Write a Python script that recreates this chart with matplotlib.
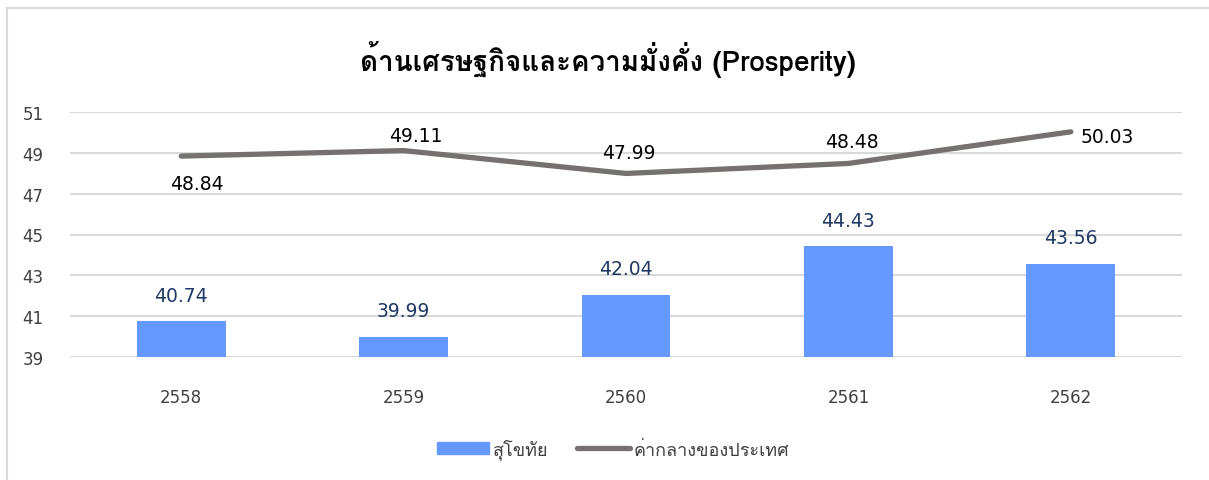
import matplotlib
matplotlib.use("Agg")
import matplotlib.pyplot as plt
import matplotlib.patches as mpatches
from matplotlib.lines import Line2D
import numpy as np

years = ["2558", "2559", "2560", "2561", "2562"]
sukhothai = [40.74, 39.99, 42.04, 44.43, 43.56]
national = [48.84, 49.11, 47.99, 48.48, 50.03]
title = "ด้านเศรษฐกิจและความมั่งคั่ง (Prosperity)"
bar_name = "สุโขทัย"
line_name = "ค่ากลางของประเทศ"

# label offsets (pixels) for the line values, like the Excel original
line_offsets = [(16, -27), (12, 15), (3, 21), (3, 22), (36, -5)]

# Loma keeps tone marks high without shaping, so stacked marks read right
plt.rcParams["font.family"] = ["Loma", "DejaVu Sans"]
num_font = "DejaVu Sans"  # closer to Tahoma digits

W, H = 1209, 481
fig = plt.figure(figsize=(W / 100, H / 100), dpi=100)

# light chart border (cut at right and bottom as in the source)
fig.patches.append(mpatches.Rectangle((7 / W, -0.1), 1.2, 1 - 9 / H + 0.1,
                                      transform=fig.transFigure, fill=False,
                                      edgecolor="#D9D9D9", lw=1.5))

ax = fig.add_axes([70 / W, 1 - 358 / H, 1112 / W, 245 / H])

x = np.arange(len(years))
ax.bar(x, np.array(sukhothai) - 39, bottom=39, width=0.4, color="#6699FF", zorder=2)
ax.plot(x, national, color="#767171", lw=3.8, solid_capstyle="round", zorder=3)
ax.set_xlim(-0.5, 4.5)
ax.set_ylim(39, 51)
ax.set_yticks(range(39, 52, 2))
ax.set_xticks(x)
ax.set_xticklabels(years)
ax.grid(axis="y", color="#D9D9D9", lw=1.5, zorder=0)
for s in ax.spines.values():
    s.set_visible(False)
ax.tick_params(length=0, labelsize=12, labelcolor="#404040")
ax.tick_params(axis="x", pad=22)
ax.tick_params(axis="y", pad=19)
for lab in ax.get_xticklabels() + ax.get_yticklabels():
    lab.set_fontfamily(num_font)

for xi, v in zip(x, sukhothai):
    ax.annotate(f"{v:.2f}", (xi, v), xytext=(0, 26), textcoords="offset pixels",
                ha="center", va="center", fontsize=13.5, color="#1F3864",
                family=num_font)
for xi, v, (dx, dy) in zip(x, national, line_offsets):
    ax.annotate(f"{v:.2f}", (xi, v), xytext=(dx, dy), textcoords="offset pixels",
                ha="center", va="center", fontsize=13.5, color="#000000",
                family=num_font)

fig.text(608 / W, 1 - 60 / H, title, ha="center", va="center",
         fontsize=20, fontweight="bold", color="#000000")

handles = [mpatches.Patch(color="#6699FF"),
           Line2D([], [], color="#767171", lw=3.8, solid_capstyle="round")]
fig.legend(handles, [bar_name, line_name], loc="center", ncol=2,
           bbox_to_anchor=(613 / W, 1 - 450 / H), frameon=False, fontsize=13,
           handlelength=2.9, handleheight=0.65, handletextpad=0.2,
           columnspacing=1.6, labelcolor="#404040")

fig.savefig("out.png", dpi=100)
